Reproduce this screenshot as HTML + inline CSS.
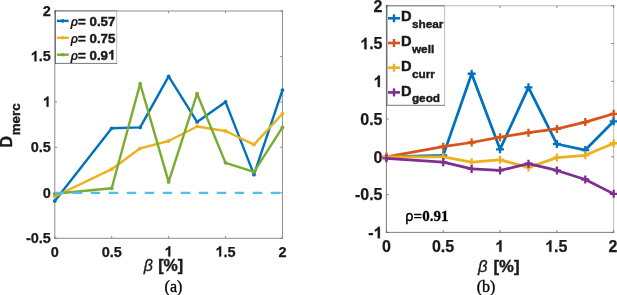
<!DOCTYPE html>
<html><head><meta charset="utf-8"><title>fig</title>
<style>
html,body{margin:0;padding:0;background:#fff;}
body{width:617px;height:295px;overflow:hidden;}
svg{display:block}
text{font-family:"Liberation Sans",sans-serif;fill:#1a1a1a}
.t{font-size:14.5px;font-weight:bold;stroke:#1a1a1a;stroke-width:0.25px}
.t2{font-size:16px;font-weight:bold;stroke:#1a1a1a;stroke-width:0.25px}
.d{font-size:14.67px;font-weight:bold;stroke:#1a1a1a;stroke-width:0.4px}
.g{font-size:13.3px;font-weight:bold;stroke:#1a1a1a;stroke-width:0.45px}
.l{font-size:16px;font-weight:bold;stroke:#1a1a1a;stroke-width:0.4px}
.i{font-style:italic;font-weight:bold;stroke:none;font-size:12.6px}
.i2{font-style:italic;font-weight:normal;stroke-width:0.3px}
.s{font-family:"Liberation Serif",serif;font-size:16px;fill:#000;stroke:#000;stroke-width:0.35px}
.sb{font-family:"Liberation Serif",serif;font-size:15px;font-weight:bold;fill:#000;stroke:#000;stroke-width:0.3px}
.rho{font-family:"Liberation Sans",sans-serif;font-weight:normal;stroke:#000;stroke-width:0.4px;font-size:14.4px}
</style></head><body>
<svg style="will-change:transform;transform:translateZ(0)" width="617" height="295" viewBox="0 0 617 295">
<rect width="617" height="295" fill="#fff"/>
<path d="M54.35 11.00H282.90" stroke="#808080" stroke-width="0.9"/>
<path d="M282.45 10.55V238.75" stroke="#808080" stroke-width="0.9"/>
<path d="M54.80 10.55V238.75" stroke="#808080" stroke-width="0.9"/>
<path d="M54.35 238.30H282.90" stroke="#808080" stroke-width="0.9"/>
<path d="M54.80 238.30v-2.3M54.80 11.00v2.3" stroke="#808080" stroke-width="0.9"/>
<text class="t" x="50.77" y="256.60">0</text>
<path d="M111.71 238.30v-2.3M111.71 11.00v2.3" stroke="#808080" stroke-width="0.9"/>
<text class="t" x="101.63" y="256.60">0.5</text>
<path d="M168.62 238.30v-2.3M168.62 11.00v2.3" stroke="#808080" stroke-width="0.9"/>
<path d="M170.30 256.60L168.31 256.60L168.31 249.10Q167.22 250.12 165.74 250.61L165.74 248.80Q166.52 248.55 167.43 247.84Q168.35 247.13 168.69 246.18L170.30 246.18Z" fill="#1a1a1a" stroke="#1a1a1a" stroke-width="0.25"/>
<path d="M225.54 238.30v-2.3M225.54 11.00v2.3" stroke="#808080" stroke-width="0.9"/>
<path d="M221.17 256.60L219.18 256.60L219.18 249.10Q218.09 250.12 216.61 250.61L216.61 248.80Q217.39 248.55 218.30 247.84Q219.21 247.13 219.55 246.18L221.17 246.18Z" fill="#1a1a1a" stroke="#1a1a1a" stroke-width="0.25"/><text class="t" x="223.52" y="256.60">.5</text>
<path d="M282.45 238.30v-2.3M282.45 11.00v2.3" stroke="#808080" stroke-width="0.9"/>
<text class="t" x="278.42" y="256.60">2</text>
<path d="M54.80 238.30h2.3M282.45 238.30h-2.3" stroke="#808080" stroke-width="0.9"/>
<text class="t" x="25.92" y="243.20">-0.5</text>
<path d="M54.80 192.84h2.3M282.45 192.84h-2.3" stroke="#808080" stroke-width="0.9"/>
<text class="t" x="42.84" y="197.74">0</text>
<path d="M54.80 147.38h2.3M282.45 147.38h-2.3" stroke="#808080" stroke-width="0.9"/>
<text class="t" x="30.74" y="152.28">0.5</text>
<path d="M54.80 101.92h2.3M282.45 101.92h-2.3" stroke="#808080" stroke-width="0.9"/>
<path d="M48.54 106.82L46.56 106.82L46.56 99.32Q45.46 100.34 43.98 100.83L43.98 99.02Q44.76 98.77 45.68 98.06Q46.59 97.35 46.93 96.40L48.54 96.40Z" fill="#1a1a1a" stroke="#1a1a1a" stroke-width="0.25"/>
<path d="M54.80 56.46h2.3M282.45 56.46h-2.3" stroke="#808080" stroke-width="0.9"/>
<path d="M36.45 61.36L34.46 61.36L34.46 53.86Q33.37 54.88 31.89 55.37L31.89 53.56Q32.67 53.31 33.58 52.60Q34.50 51.89 34.84 50.94L36.45 50.94Z" fill="#1a1a1a" stroke="#1a1a1a" stroke-width="0.25"/><text class="t" x="38.81" y="61.36">.5</text>
<path d="M54.80 11.00h2.3M282.45 11.00h-2.3" stroke="#808080" stroke-width="0.9"/>
<text class="t" x="42.84" y="15.90">2</text>
<polyline points="54.80,201.02 111.71,128.29 140.17,127.38 168.62,76.46 197.08,121.92 225.54,101.92 253.99,174.66 282.45,90.10" fill="none" stroke="#0072BD" stroke-width="2.4" stroke-linejoin="round" stroke-linecap="round"/>
<circle cx="54.80" cy="201.02" r="1.9" fill="#0072BD"/>
<circle cx="111.71" cy="128.29" r="1.9" fill="#0072BD"/>
<circle cx="140.17" cy="127.38" r="1.9" fill="#0072BD"/>
<circle cx="168.62" cy="76.46" r="1.9" fill="#0072BD"/>
<circle cx="197.08" cy="121.92" r="1.9" fill="#0072BD"/>
<circle cx="225.54" cy="101.92" r="1.9" fill="#0072BD"/>
<circle cx="253.99" cy="174.66" r="1.9" fill="#0072BD"/>
<circle cx="282.45" cy="90.10" r="1.9" fill="#0072BD"/>
<polyline points="54.80,196.48 111.71,169.20 140.17,148.29 168.62,141.02 197.08,126.47 225.54,131.01 253.99,144.65 282.45,113.74" fill="none" stroke="#EDB120" stroke-width="2.4" stroke-linejoin="round" stroke-linecap="round"/>
<circle cx="54.80" cy="196.48" r="1.9" fill="#EDB120"/>
<circle cx="111.71" cy="169.20" r="1.9" fill="#EDB120"/>
<circle cx="140.17" cy="148.29" r="1.9" fill="#EDB120"/>
<circle cx="168.62" cy="141.02" r="1.9" fill="#EDB120"/>
<circle cx="197.08" cy="126.47" r="1.9" fill="#EDB120"/>
<circle cx="225.54" cy="131.01" r="1.9" fill="#EDB120"/>
<circle cx="253.99" cy="144.65" r="1.9" fill="#EDB120"/>
<circle cx="282.45" cy="113.74" r="1.9" fill="#EDB120"/>
<polyline points="54.80,193.75 111.71,188.29 140.17,83.74 168.62,181.93 197.08,93.74 225.54,162.84 253.99,171.93 282.45,127.38" fill="none" stroke="#77AC30" stroke-width="2.4" stroke-linejoin="round" stroke-linecap="round"/>
<circle cx="54.80" cy="193.75" r="1.9" fill="#77AC30"/>
<circle cx="111.71" cy="188.29" r="1.9" fill="#77AC30"/>
<circle cx="140.17" cy="83.74" r="1.9" fill="#77AC30"/>
<circle cx="168.62" cy="181.93" r="1.9" fill="#77AC30"/>
<circle cx="197.08" cy="93.74" r="1.9" fill="#77AC30"/>
<circle cx="225.54" cy="162.84" r="1.9" fill="#77AC30"/>
<circle cx="253.99" cy="171.93" r="1.9" fill="#77AC30"/>
<circle cx="282.45" cy="127.38" r="1.9" fill="#77AC30"/>
<line x1="54.80" x2="282.45" y1="192.84" y2="192.84" stroke="#4DBEEE" stroke-width="2.3" stroke-dasharray="9.4 8.6"/>
<rect x="55.50" y="11.00" width="61.20" height="52.40" fill="#fff"/>
<path d="M55.12 11.00H117.08" stroke="#4a4a4a" stroke-width="0.75"/>
<path d="M116.70 10.62V63.77" stroke="#a8a8a8" stroke-width="0.75"/>
<path d="M55.50 10.62V63.77" stroke="#4a4a4a" stroke-width="0.75"/>
<path d="M55.12 63.40H117.08" stroke="#4a4a4a" stroke-width="0.75"/>
<path d="M56.9 20.90h11.8" stroke="#0072BD" stroke-width="2.4"/><circle cx="62.8" cy="20.90" r="1.8" fill="#0072BD"/>
<text class="g" x="70.4" y="25.80"><tspan class="i">ρ</tspan>=</text>
<text class="g" x="89.50" y="25.80">0.57</text>
<path d="M56.9 37.80h11.8" stroke="#EDB120" stroke-width="2.4"/><circle cx="62.8" cy="37.80" r="1.8" fill="#EDB120"/>
<text class="g" x="70.4" y="42.70"><tspan class="i">ρ</tspan>=</text>
<text class="g" x="89.50" y="42.70">0.75</text>
<path d="M56.9 54.70h11.8" stroke="#77AC30" stroke-width="2.4"/><circle cx="62.8" cy="54.70" r="1.8" fill="#77AC30"/>
<text class="g" x="70.4" y="59.60"><tspan class="i">ρ</tspan>=</text>
<text class="g" x="89.50" y="59.60">0.9</text><path d="M113.22 59.60L111.40 59.60L111.40 52.72Q110.40 53.66 109.04 54.11L109.04 52.45Q109.75 52.22 110.59 51.56Q111.43 50.91 111.74 50.04L113.22 50.04Z" fill="#1a1a1a" stroke="#1a1a1a" stroke-width="0.45"/>
<text class="l" transform="translate(11.9,147.5) rotate(-90)">D<tspan dy="8.5" dx="0.7" font-size="13.3">merc</tspan></text>
<text class="l" y="271.4"><tspan class="i2" x="143.8">β</tspan><tspan x="158.2">[%]</tspan></text>
<text class="s" x="164.6" y="291.8">(a)</text>
<path d="M385.95 5.75H614.15" stroke="#b4b4b4" stroke-width="0.9"/>
<path d="M613.70 5.30V232.85" stroke="#b4b4b4" stroke-width="0.9"/>
<path d="M386.40 5.30V232.85" stroke="#6e6e6e" stroke-width="0.9"/>
<path d="M385.95 232.40H614.15" stroke="#6e6e6e" stroke-width="0.9"/>
<path d="M386.40 232.40v-2.3M386.40 5.75v2.3" stroke="#6e6e6e" stroke-width="0.9"/>
<text class="t2" x="381.95" y="251.80">0</text>
<path d="M443.23 232.40v-2.3M443.23 5.75v2.3" stroke="#6e6e6e" stroke-width="0.9"/>
<text class="t2" x="431.91" y="251.80">0.5</text>
<path d="M500.05 232.40v-2.3M500.05 5.75v2.3" stroke="#6e6e6e" stroke-width="0.9"/>
<path d="M501.50 251.80L499.30 251.80L499.30 243.53Q498.10 244.65 496.47 245.19L496.47 243.20Q497.33 242.92 498.33 242.13Q499.34 241.35 499.72 240.30L501.50 240.30Z" fill="#1a1a1a" stroke="#1a1a1a" stroke-width="0.25"/>
<path d="M556.88 232.40v-2.3M556.88 5.75v2.3" stroke="#6e6e6e" stroke-width="0.9"/>
<path d="M551.45 251.80L549.26 251.80L549.26 243.53Q548.05 244.65 546.42 245.19L546.42 243.20Q547.28 242.92 548.29 242.13Q549.30 241.35 549.67 240.30L551.45 240.30Z" fill="#1a1a1a" stroke="#1a1a1a" stroke-width="0.25"/><text class="t2" x="554.05" y="251.80">.5</text>
<path d="M613.70 232.40v-2.3M613.70 5.75v2.3" stroke="#6e6e6e" stroke-width="0.9"/>
<text class="t2" x="608.45" y="251.80">2</text>
<path d="M386.40 232.40h2.3M613.70 232.40h-2.3" stroke="#6e6e6e" stroke-width="0.9"/>
<text class="t2" x="368.28" y="238.20">-</text><path d="M379.90 238.20L377.71 238.20L377.71 229.93Q376.50 231.05 374.87 231.59L374.87 229.60Q375.73 229.32 376.74 228.53Q377.74 227.75 378.12 226.70L379.90 226.70Z" fill="#1a1a1a" stroke="#1a1a1a" stroke-width="0.25"/>
<path d="M386.40 194.62h2.3M613.70 194.62h-2.3" stroke="#6e6e6e" stroke-width="0.9"/>
<text class="t2" x="354.93" y="200.43">-0.5</text>
<path d="M386.40 156.85h2.3M613.70 156.85h-2.3" stroke="#6e6e6e" stroke-width="0.9"/>
<text class="t2" x="373.60" y="162.65">0</text>
<path d="M386.40 119.08h2.3M613.70 119.08h-2.3" stroke="#6e6e6e" stroke-width="0.9"/>
<text class="t2" x="360.26" y="124.88">0.5</text>
<path d="M386.40 81.30h2.3M613.70 81.30h-2.3" stroke="#6e6e6e" stroke-width="0.9"/>
<path d="M379.90 87.10L377.71 87.10L377.71 78.83Q376.50 79.95 374.87 80.49L374.87 78.50Q375.73 78.22 376.74 77.43Q377.74 76.65 378.12 75.60L379.90 75.60Z" fill="#1a1a1a" stroke="#1a1a1a" stroke-width="0.25"/>
<path d="M386.40 43.53h2.3M613.70 43.53h-2.3" stroke="#6e6e6e" stroke-width="0.9"/>
<path d="M366.56 49.33L364.36 49.33L364.36 41.05Q363.16 42.18 361.53 42.72L361.53 40.72Q362.38 40.44 363.39 39.66Q364.40 38.87 364.78 37.83L366.56 37.83Z" fill="#1a1a1a" stroke="#1a1a1a" stroke-width="0.25"/><text class="t2" x="369.16" y="49.33">.5</text>
<path d="M386.40 5.75h2.3M613.70 5.75h-2.3" stroke="#6e6e6e" stroke-width="0.9"/>
<text class="t2" x="373.60" y="11.55">2</text>
<polyline points="386.40,156.85 443.23,155.34 471.64,73.74 500.05,149.30 528.46,87.34 556.88,144.01 585.29,150.05 613.70,121.34" fill="none" stroke="#0072BD" stroke-width="2.75" stroke-linejoin="round" stroke-linecap="round"/>
<path d="M382.40 156.85h8M386.40 152.85v8" stroke="#0072BD" stroke-width="2.3"/>
<path d="M439.23 155.34h8M443.23 151.34v8" stroke="#0072BD" stroke-width="2.3"/>
<path d="M467.64 73.74h8M471.64 69.74v8" stroke="#0072BD" stroke-width="2.3"/>
<path d="M496.05 149.30h8M500.05 145.30v8" stroke="#0072BD" stroke-width="2.3"/>
<path d="M524.46 87.34h8M528.46 83.34v8" stroke="#0072BD" stroke-width="2.3"/>
<path d="M552.88 144.01h8M556.88 140.01v8" stroke="#0072BD" stroke-width="2.3"/>
<path d="M581.29 150.05h8M585.29 146.05v8" stroke="#0072BD" stroke-width="2.3"/>
<path d="M609.70 121.34h8M613.70 117.34v8" stroke="#0072BD" stroke-width="2.3"/>
<polyline points="386.40,156.85 443.23,146.65 471.64,142.50 500.05,137.21 528.46,132.67 556.88,128.90 585.29,122.10 613.70,113.79" fill="none" stroke="#D95319" stroke-width="2.75" stroke-linejoin="round" stroke-linecap="round"/>
<path d="M382.40 156.85h8M386.40 152.85v8" stroke="#D95319" stroke-width="2.3"/>
<path d="M439.23 146.65h8M443.23 142.65v8" stroke="#D95319" stroke-width="2.3"/>
<path d="M467.64 142.50h8M471.64 138.50v8" stroke="#D95319" stroke-width="2.3"/>
<path d="M496.05 137.21h8M500.05 133.21v8" stroke="#D95319" stroke-width="2.3"/>
<path d="M524.46 132.67h8M528.46 128.67v8" stroke="#D95319" stroke-width="2.3"/>
<path d="M552.88 128.90h8M556.88 124.90v8" stroke="#D95319" stroke-width="2.3"/>
<path d="M581.29 122.10h8M585.29 118.10v8" stroke="#D95319" stroke-width="2.3"/>
<path d="M609.70 113.79h8M613.70 109.79v8" stroke="#D95319" stroke-width="2.3"/>
<polyline points="386.40,156.85 443.23,156.85 471.64,162.14 500.05,159.87 528.46,167.43 556.88,157.61 585.29,155.34 613.70,143.25" fill="none" stroke="#EDB120" stroke-width="2.75" stroke-linejoin="round" stroke-linecap="round"/>
<path d="M382.40 156.85h8M386.40 152.85v8" stroke="#EDB120" stroke-width="2.3"/>
<path d="M439.23 156.85h8M443.23 152.85v8" stroke="#EDB120" stroke-width="2.3"/>
<path d="M467.64 162.14h8M471.64 158.14v8" stroke="#EDB120" stroke-width="2.3"/>
<path d="M496.05 159.87h8M500.05 155.87v8" stroke="#EDB120" stroke-width="2.3"/>
<path d="M524.46 167.43h8M528.46 163.43v8" stroke="#EDB120" stroke-width="2.3"/>
<path d="M552.88 157.61h8M556.88 153.61v8" stroke="#EDB120" stroke-width="2.3"/>
<path d="M581.29 155.34h8M585.29 151.34v8" stroke="#EDB120" stroke-width="2.3"/>
<path d="M609.70 143.25h8M613.70 139.25v8" stroke="#EDB120" stroke-width="2.3"/>
<polyline points="386.40,158.36 443.23,162.14 471.64,168.94 500.05,170.45 528.46,163.65 556.88,170.45 585.29,179.52 613.70,193.87" fill="none" stroke="#7E2F8E" stroke-width="2.75" stroke-linejoin="round" stroke-linecap="round"/>
<path d="M382.40 158.36h8M386.40 154.36v8" stroke="#7E2F8E" stroke-width="2.3"/>
<path d="M439.23 162.14h8M443.23 158.14v8" stroke="#7E2F8E" stroke-width="2.3"/>
<path d="M467.64 168.94h8M471.64 164.94v8" stroke="#7E2F8E" stroke-width="2.3"/>
<path d="M496.05 170.45h8M500.05 166.45v8" stroke="#7E2F8E" stroke-width="2.3"/>
<path d="M524.46 163.65h8M528.46 159.65v8" stroke="#7E2F8E" stroke-width="2.3"/>
<path d="M552.88 170.45h8M556.88 166.45v8" stroke="#7E2F8E" stroke-width="2.3"/>
<path d="M581.29 179.52h8M585.29 175.52v8" stroke="#7E2F8E" stroke-width="2.3"/>
<path d="M609.70 193.87h8M613.70 189.87v8" stroke="#7E2F8E" stroke-width="2.3"/>
<rect x="387.00" y="5.90" width="57.60" height="99.40" fill="#fff"/>
<path d="M386.62 5.90H444.98" stroke="#4a4a4a" stroke-width="0.75"/>
<path d="M444.60 5.53V105.67" stroke="#a8a8a8" stroke-width="0.75"/>
<path d="M387.00 5.53V105.67" stroke="#4a4a4a" stroke-width="0.75"/>
<path d="M386.62 105.30H444.98" stroke="#4a4a4a" stroke-width="0.75"/>
<path d="M388.00 18.30h12" stroke="#0072BD" stroke-width="2.6"/><path d="M394.00 14.30v8" stroke="#0072BD" stroke-width="2.4"/>
<text class="d" x="401.0" y="21.40">D<tspan dy="6.7" dx="0.3" font-size="11.8">shear</tspan></text>
<path d="M388.00 43.00h12" stroke="#D95319" stroke-width="2.6"/><path d="M394.00 39.00v8" stroke="#D95319" stroke-width="2.4"/>
<text class="d" x="401.0" y="46.10">D<tspan dy="6.7" dx="0.3" font-size="11.8">well</tspan></text>
<path d="M388.00 67.70h12" stroke="#EDB120" stroke-width="2.6"/><path d="M394.00 63.70v8" stroke="#EDB120" stroke-width="2.4"/>
<text class="d" x="401.0" y="70.80">D<tspan dy="6.7" dx="0.3" font-size="11.8">curr</tspan></text>
<path d="M388.00 92.40h12" stroke="#7E2F8E" stroke-width="2.6"/><path d="M394.00 88.40v8" stroke="#7E2F8E" stroke-width="2.4"/>
<text class="d" x="401.0" y="95.50">D<tspan dy="6.7" dx="0.3" font-size="11.8">geod</tspan></text>
<text class="sb" y="221.0"><tspan x="405.2" class="rho">ρ</tspan><tspan x="413.6">=0.91</tspan></text>
<text class="l" y="272.4" style="font-size:16.7px"><tspan class="i2" x="478.0">β</tspan><tspan x="493.5">[%]</tspan></text>
<text class="s" x="476.7" y="292.0">(b)</text>
</svg>
</body></html>
